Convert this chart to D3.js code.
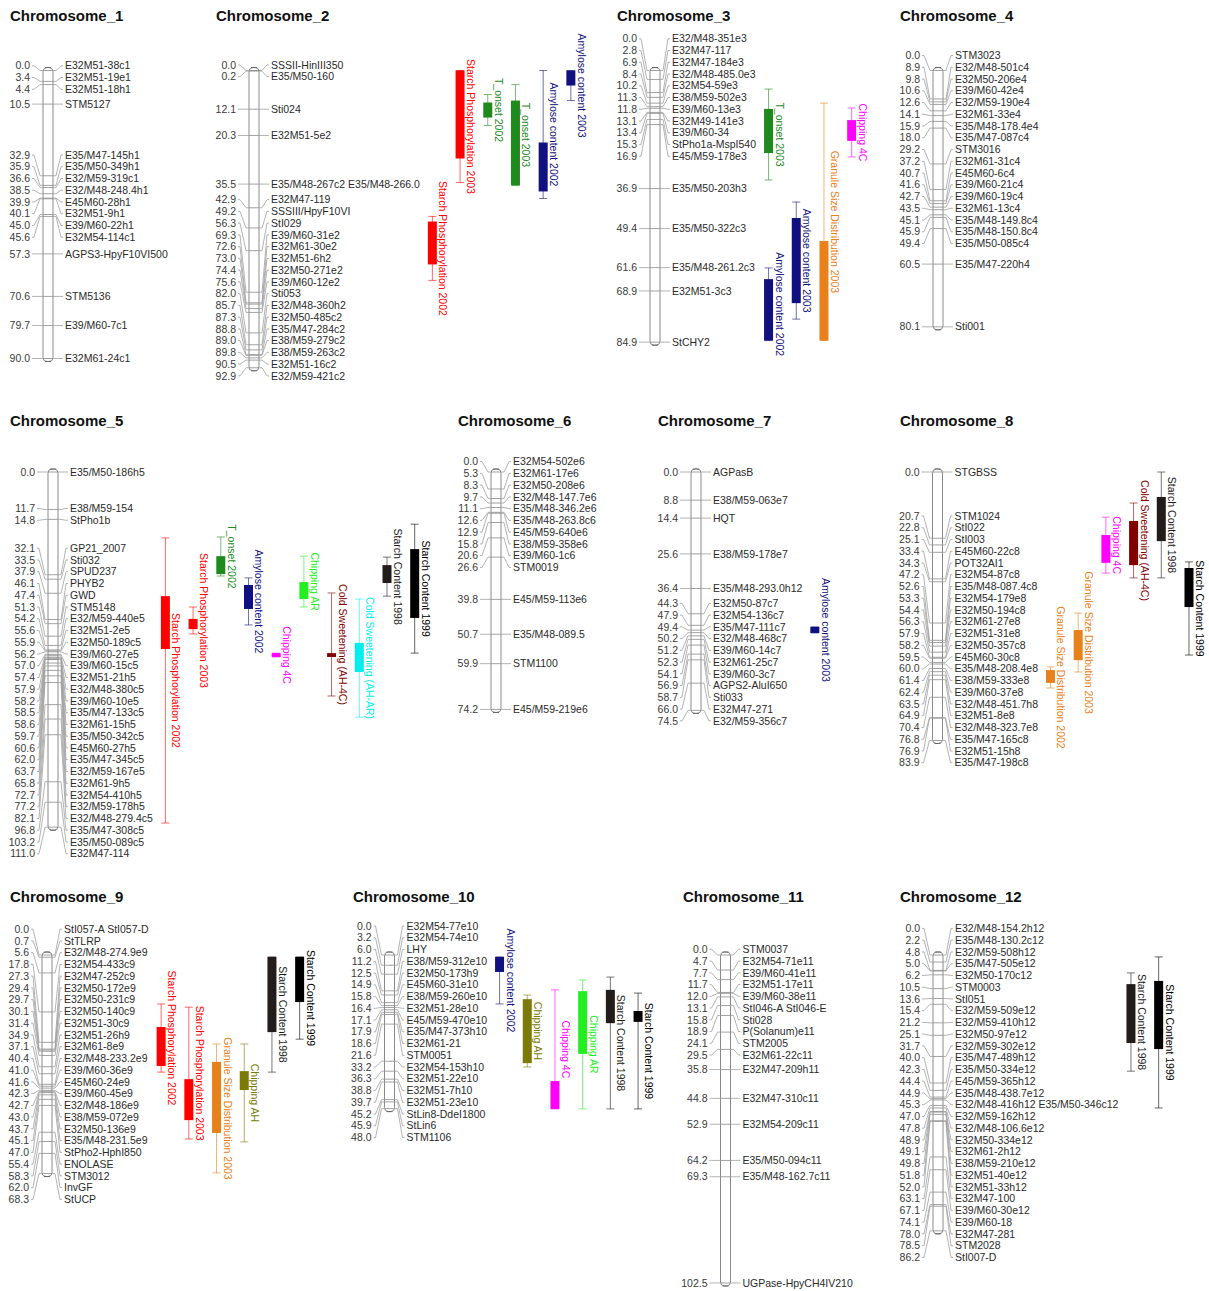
<!DOCTYPE html>
<html><head><meta charset="utf-8">
<script src="https://cdn.jsdelivr.net/npm/d3@7"></script>
<style>body{margin:0;background:#fff}text{font-family:"Liberation Sans",Arial,sans-serif}</style>
</head><body>
<svg id="chart" width="1209" height="1291"></svg>
<script>
// ---------------- DATA ----------------
const chromosomes = ["Chromosome_1","Chromosome_2","Chromosome_3","Chromosome_4","Chromosome_5","Chromosome_6",
  "Chromosome_7","Chromosome_8","Chromosome_9","Chromosome_10","Chromosome_11","Chromosome_12"];

const chr1 = [[0.0,"E32M51-38c1"],[3.4,"E32M51-19e1"],[4.4,"E32M51-18h1"],[10.5,"STM5127"],[32.9,"E35/M47-145h1"],
  [35.9,"E35/M50-349h1"],[36.6,"E32/M59-319c1"],[38.5,"E32/M48-248.4h1"],[39.9,"E45M60-28h1"],[40.1,"E32M51-9h1"],
  [45.0,"E39/M60-22h1"],[45.6,"E32M54-114c1"],[57.3,"AGPS3-HpyF10VI500"],[70.6,"STM5136"],[79.7,"E39/M60-7c1"],[90.0,"E32M61-24c1"]];
const chr2 = [[0.0,"SSSII-HinIII350"],[0.2,"E35/M50-160"],[12.1,"Sti024"],[20.3,"E32M51-5e2"],[35.5,"E35/M48-267c2 E35/M48-266.0"],
  [42.9,"E32M47-119"],[49.2,"SSSIII/HpyF10VI"],[56.3,"StI029"],[69.3,"E39/M60-31e2"],[72.6,"E32M61-30e2"],[73.0,"E32M51-6h2"],
  [74.4,"E32M50-271e2"],[75.6,"E39/M60-12e2"],[82.0,"Sti053"],[85.7,"E32/M48-360h2"],[87.3,"E32M50-485c2"],[88.8,"E35/M47-284c2"],
  [89.0,"E38/M59-279c2"],[89.8,"E38/M59-263c2"],[90.5,"E32M51-16c2"],[92.9,"E32/M59-421c2"]];
const chr3 = [[0.0,"E32/M48-351e3"],[2.8,"E32M47-117"],[6.9,"E32M47-184e3"],[8.4,"E32/M48-485.0e3"],[10.2,"E32M54-59e3"],
  [11.3,"E38/M59-502e3"],[11.8,"E39/M60-13e3"],[13.1,"E32M49-141e3"],[13.4,"E39/M60-34"],[15.3,"StPho1a-MspI540"],
  [16.9,"E45/M59-178e3"],[36.9,"E35/M50-203h3"],[49.4,"E35/M50-322c3"],[61.6,"E35/M48-261.2c3"],[68.9,"E32M51-3c3"],[84.9,"StCHY2"]];
const chr4 = [[0.0,"STM3023"],[8.9,"E32/M48-501c4"],[9.8,"E32M50-206e4"],[10.6,"E39/M60-42e4"],[12.6,"E32/M59-190e4"],
  [14.1,"E32M61-33e4"],[15.9,"E35/M48-178.4e4"],[18.0,"E35/M47-087c4"],[29.2,"STM3016"],[37.2,"E32M61-31c4"],[40.7,"E45M60-6c4"],
  [41.6,"E39/M60-21c4"],[42.7,"E39/M60-19c4"],[43.5,"E32M61-13c4"],[45.1,"E35/M48-149.8c4"],[45.9,"E35/M48-150.8c4"],
  [49.4,"E35/M50-085c4"],[60.5,"E35/M47-220h4"],[80.1,"Sti001"]];
const chr5 = [[0.0,"E35/M50-186h5"],[11.7,"E38/M59-154"],[14.8,"StPho1b"],[32.1,"GP21_2007"],[33.5,"Sti032"],[37.9,"SPUD237"],
  [46.1,"PHYB2"],[47.4,"GWD"],[51.3,"STM5148"],[54.2,"E32/M59-440e5"],[55.6,"E32M51-2e5"],[55.9,"E32M50-189c5"],
  [56.2,"E39/M60-27e5"],[57.0,"E39/M60-15c5"],[57.4,"E32M51-21h5"],[57.9,"E32/M48-380c5"],[58.2,"E39/M60-10e5"],
  [58.5,"E35/M47-133c5"],[58.6,"E32M61-15h5"],[59.7,"E35/M50-342c5"],[60.6,"E45M60-27h5"],[62.0,"E35/M47-345c5"],
  [63.7,"E32/M59-167e5"],[65.8,"E32M61-9h5"],[72.7,"E32M54-410h5"],[77.2,"E32/M59-178h5"],[82.1,"E32/M48-279.4c5"],
  [96.8,"E35/M47-308c5"],[103.2,"E35/M50-089c5"],[111.0,"E32M47-114"]];
const chr6 = [[0.0,"E32M54-502e6"],[5.3,"E32M61-17e6"],[8.3,"E32M50-208e6"],[9.7,"E32/M48-147.7e6"],[11.1,"E35/M48-346.2e6"],
  [12.6,"E35/M48-263.8c6"],[12.9,"E45/M59-640e6"],[15.8,"E38/M59-358e6"],[20.6,"E39/M60-1c6"],[26.6,"STM0019"],
  [39.8,"E45/M59-113e6"],[50.7,"E35/M48-089.5"],[59.9,"STM1100"],[74.2,"E45/M59-219e6"]];
const chr7 = [[0.0,"AGPasB"],[8.8,"E38/M59-063e7"],[14.4,"HQT"],[25.6,"E38/M59-178e7"],[36.4,"E35/M48-293.0h12"],
  [44.3,"E32M50-87c7"],[47.9,"E32M54-136c7"],[49.4,"E35/M47-111c7"],[50.2,"E32/M48-468c7"],[51.2,"E39/M60-14c7"],
  [52.3,"E32M61-25c7"],[54.1,"E39/M60-3c7"],[56.9,"AGPS2-AluI650"],[58.7,"Sti033"],[66.0,"E32M47-271"],[74.5,"E32/M59-356c7"]];
const chr8 = [[0.0,"STGBSS"],[20.7,"STM1024"],[22.8,"StI022"],[25.1,"StI003"],[33.4,"E45M60-22c8"],[34.3,"POT32AI1"],
  [47.2,"E32M54-87c8"],[52.6,"E35/M48-087.4c8"],[53.3,"E32M54-179e8"],[54.4,"E32M50-194c8"],[56.3,"E32M61-27e8"],
  [57.9,"E32M51-31e8"],[58.2,"E32M50-357c8"],[59.5,"E45M60-30c8"],[60.0,"E35/M48-208.4e8"],[61.4,"E38/M59-333e8"],
  [62.4,"E39/M60-37e8"],[63.5,"E32/M48-451.7h8"],[64.9,"E32M51-8e8"],[70.4,"E32/M48-323.7e8"],[76.8,"E35/M47-165c8"],
  [76.9,"E32M51-15h8"],[83.9,"E35/M47-198c8"]];
const chr9 = [[0.0,"StI057-A StI057-D"],[0.7,"StTLRP"],[5.6,"E32/M48-274.9e9"],[17.8,"E32M54-433c9"],[27.3,"E32M47-252c9"],
  [29.4,"E32M50-172e9"],[29.7,"E32M50-231c9"],[30.1,"E32M50-140c9"],[31.4,"E32M51-30c9"],[34.9,"E32M51-26h9"],
  [37.1,"E32M61-8e9"],[40.4,"E32/M48-233.2e9"],[41.0,"E39/M60-36e9"],[41.6,"E45M60-24e9"],[42.3,"E39/M60-45e9"],
  [42.7,"E32/M48-186e9"],[43.0,"E38/M59-072e9"],[43.7,"E32M50-136e9"],[45.1,"E35/M48-231.5e9"],[47.0,"StPho2-HphI850"],
  [55.4,"ENOLASE"],[58.3,"STM3012"],[62.0,"InvGF"],[68.3,"StUCP"]];
const chr10 = [[0.0,"E32M54-77e10"],[3.2,"E32M54-74e10"],[6.0,"LHY"],[11.2,"E38/M59-312e10"],[12.5,"E32M50-173h9"],
  [14.9,"E45M60-31e10"],[15.8,"E38/M59-260e10"],[16.4,"E32M51-28e10"],[17.1,"E45/M59-470e10"],[17.9,"E35/M47-373h10"],
  [18.6,"E32M61-21"],[21.6,"STM0051"],[33.2,"E32M54-153h10"],[36.3,"E32M51-22e10"],[38.8,"E32M51-7h10"],
  [39.7,"E32M51-23e10"],[45.2,"StLin8-DdeI1800"],[45.9,"StLin6"],[48.0,"STM1106"]];
const chr11 = [[0.0,"STM0037"],[4.7,"E32M54-71e11"],[7.7,"E39/M60-41e11"],[11.7,"E32M51-17e11"],[12.0,"E39/M60-38e11"],
  [13.1,"StI046-A StI046-E"],[15.8,"Sti028"],[18.9,"P(Solanum)e11"],[24.1,"STM2005"],[29.5,"E32M61-22c11"],
  [35.8,"E32M47-209h11"],[44.8,"E32M47-310c11"],[52.9,"E32M54-209c11"],[64.2,"E35/M50-094c11"],[69.3,"E35/M48-162.7c11"],
  [102.5,"UGPase-HpyCH4IV210"]];
const chr12 = [[0.0,"E32/M48-154.2h12"],[2.2,"E35/M48-130.2c12"],[4.8,"E32/M59-508h12"],[5.0,"E35/M47-505e12"],
  [6.2,"E32M50-170c12"],[10.5,"STM0003"],[13.6,"StI051"],[15.4,"E32/M59-509e12"],[21.2,"E32/M59-410h12"],[25.1,"E32M50-97e12"],
  [31.7,"E32/M59-302e12"],[40.0,"E35/M47-489h12"],[42.3,"E35/M50-334e12"],[44.4,"E45/M59-365h12"],[44.9,"E35/M48-438.7e12"],
  [45.3,"E32/M48-416h12 E35/M50-346c12"],[47.0,"E32/M59-162h12"],[47.8,"E32/M48-106.6e12"],[48.9,"E32M50-334e12"],
  [49.1,"E32M61-2h12"],[49.8,"E38/M59-210e12"],[51.8,"E32M51-40e12"],[52.0,"E32M51-33h12"],[63.1,"E32M47-100"],
  [67.1,"E39/M60-30e12"],[74.1,"E39/M60-18"],[78.0,"E32M47-281"],[78.5,"STM2028"],[86.2,"StI007-D"]];
const markerSets = [chr1,chr2,chr3,chr4,chr5,chr6,chr7,chr8,chr9,chr10,chr11,chr12];

// QTLs: [label, trait key, lane, CI start cM, CI end cM, peak-box start cM, peak-box end cM]
const qtl2 = [["Starch Phosphorylation 2002","SP",0,45.6,65.6,47.2,60.6],["Starch Phosphorylation 2003","SP",1,0,35.0,0,27.5],
  ["T_onset 2002","TO",2,7.5,17.2,10.0,14.7],["T_onset 2003","TO",3,4.4,35.9,9.4,35.9],
  ["Amylose content 2002","AC",4,0,40.0,22.5,37.8],["Amylose content 2003","AC",5,0,9.4,0,4.7]];
const qtl3 = [["T_onset 2003","TO",0,5.8,34.2,12.0,25.8],["Amylose content 2002","AC",0,61.7,84.4,65.2,84.4],
  ["Amylose content 2003","AC",1,41.1,77.7,46.1,72.7],["Granule Size Distribution 2003","GS",2,10.2,84.4,53.3,84.4],
  ["Chipping 4C","C4",3,11.7,27.0,15.5,22.0]];
const qtl5 = [["Starch Phosphorylation 2002","SP",0,20.6,109.7,38.8,55.3],["Starch Phosphorylation 2003","SP",1,42.2,50.6,45.9,49.1],
  ["T_onset 2002","TO",2,20.3,32.5,26.3,31.9],["Amylose content 2002","AC",3,33.1,47.8,35.3,42.8],
  ["Chipping 4C","C4",4,56.6,57.8,56.6,57.8],["Chipping AR","CAR",5,26.3,42.2,34.4,39.7],
  ["Cold Sweetening (AH-4C)","CS4",6,37.8,70.0,56.6,57.8],["Cold Sweetening (AH-AR)","CSAR",7,39.7,76.6,53.4,62.5],
  ["Starch Content 1998","SC98",8,26.6,38.8,29.1,34.7],["Starch Content 1999","SC99",9,16.3,56.6,24.1,45.6]];
const qtl7 = [["Amylose content 2003","AC",0,48.4,50.3,48.4,50.3]];
const qtl8 = [["Granule Size Distribution 2002","GS",0,60.9,67.5,61.9,65.9],["Granule Size Distribution 2003","GS",1,44.1,62.5,49.4,58.8],
  ["Chipping 4C","C4",2,14.1,31.6,19.7,28.4],["Cold Sweetening (AH-4C)","CS4",3,9.7,33.1,15.3,29.1],
  ["Starch Content 1998","SC98",4,0,33.1,7.8,21.6],["Starch Content 1999","SC99",5,28.1,57.2,30.0,42.2]];
const qtl9 = [["Starch Phosphorylation 2002","SP",0,15.3,36.6,22.5,34.7],["Starch Phosphorylation 2003","SP",1,16.3,57.5,38.8,51.6],
  ["Granule Size Distribution 2003","GS",2,27.8,68.1,33.4,55.6],["Chipping AH","CAH",3,27.8,58.4,36.3,42.2],
  ["Starch Content 1998","SC98",4,0.6,36.6,0.6,24.1],["Starch Content 1999","SC99",5,0.6,26.3,0.6,14.7]];
const qtl10 = [["Amylose content 2002","AC",0,0.6,15.3,0.6,5.3],["Chipping AH","CAH",1,12.5,35.0,13.8,33.8],
  ["Chipping 4C","C4",2,10.9,48.1,39.4,48.1],["Chipping AR","CAR",3,7.8,48.1,11.3,30.9],
  ["Starch Content 1998","SC98",4,6.9,48.1,10.9,21.3],["Starch Content 1999","SC99",5,11.9,48.1,17.5,20.9]];
const qtl12 = [["Starch Content 1998","SC98",0,5.6,36.3,9.1,27.5],["Starch Content 1999","SC99",1,0.6,47.8,8.1,29.4]];
const qtlSets = [[],qtl2,qtl3,[],qtl5,[],qtl7,qtl8,qtl9,qtl10,[],qtl12];

// ---------------- STYLE / LAYOUT ----------------
const traitColor = {SP:"#ff0000",TO:"#1e8a1e",AC:"#10107e",GS:"#e8801c",C4:"#ff00ff",CAR:"#22ee22",CAH:"#7a7a05",
  CS4:"#800000",CSAR:"#00eeee",SC98:"#221d1a",SC99:"#000000"};
const rowTop = [70.5, 472, 955];
const rowTitle = [21, 426, 902];
const layout = [
  {row:0,titleX:10,cx:48},{row:0,titleX:216,cx:254},{row:0,titleX:617,cx:655},{row:0,titleX:900,cx:938},
  {row:1,titleX:10,cx:53},{row:1,titleX:458,cx:496},{row:1,titleX:658,cx:696},{row:1,titleX:900,cx:937.5},
  {row:2,titleX:10,cx:47},{row:2,titleX:353,cx:389.5},{row:2,titleX:683,cx:725.5},{row:2,titleX:900,cx:938}
];
const PX_PER_CM = 3.2, GAP = 11.75, BAR_W = 10, LANE_W = 27.7, BOX_W = 9, QTL_GAP = 8;

// label de-overlap: groups centred on the midpoint of their desired range, merged from the bottom up
function spread(desired, gap) {
  let groups = desired.map(d => ({lo:d, hi:d, n:1}));
  const top = g => (g.lo + g.hi) / 2 - (g.n - 1) * gap / 2;
  let merged = true;
  while (merged) {
    merged = false;
    for (let i = groups.length - 1; i >= 1; i--) {
      const a = groups[i-1], b = groups[i];
      if (top(b) < top(a) + a.n * gap - 0.01) {
        groups.splice(i-1, 2, {lo:a.lo, hi:b.hi, n:a.n + b.n});
        merged = true; break;
      }
    }
  }
  const out = [];
  groups.forEach(g => { const t = top(g); for (let k = 0; k < g.n; k++) out.push(t + k * gap); });
  return out;
}

const svg = d3.select("#chart");
svg.append("rect").attr("width",1209).attr("height",1291).attr("fill","#fff");
const line = d3.line();

chromosomes.forEach((name, i) => {
  const L = layout[i], markers = markerSets[i];
  const maxCM = d3.max(markers, d => d[0]);
  const y0 = rowTop[L.row];
  const y = d3.scaleLinear().domain([0, maxCM]).range([y0, y0 + maxCM * PX_PER_CM]);
  const g = svg.append("g");

  g.append("text").attr("x", L.titleX).attr("y", rowTitle[L.row])
    .attr("font-size", 15).attr("font-weight", "bold").attr("fill", "#111").text(name);

  const bl = L.cx - BAR_W / 2, br = L.cx + BAR_W / 2;
  g.append("rect").attr("x", bl).attr("y", y(0) - 3).attr("width", BAR_W)
    .attr("height", y(maxCM) - y(0) + 6).attr("rx", 4).attr("ry", 4)
    .attr("fill", "#fff").attr("stroke", "#8a8a8a").attr("stroke-width", 1);
  // small end caps
  [y(0) - 3, y(maxCM) + 3].forEach(yy => g.append("line").attr("x1", L.cx - 3).attr("x2", L.cx + 3)
    .attr("y1", yy).attr("y2", yy).attr("stroke", "#666").attr("stroke-width", 1));

  const desired = markers.map(d => y(d[0]));
  const pos = spread(desired, GAP);
  const numR = L.cx - 18, nameL = L.cx + 17;
  let maxRight = 0;
  markers.forEach((d, j) => {
    const yt = desired[j], yl = pos[j];
    g.append("line").attr("x1", bl).attr("x2", br).attr("y1", yt).attr("y2", yt)
      .attr("stroke", "#8a8a8a").attr("stroke-width", 0.8);
    g.append("path").attr("d", line([[numR + 2, yl], [numR + 4, yl], [bl - 3, yt], [bl, yt]]))
      .attr("fill", "none").attr("stroke", "#a0a0a0").attr("stroke-width", 0.8);
    g.append("path").attr("d", line([[br, yt], [br + 3, yt], [nameL - 4, yl], [nameL - 2, yl]]))
      .attr("fill", "none").attr("stroke", "#a0a0a0").attr("stroke-width", 0.8);
    g.append("text").attr("x", numR).attr("y", yl).attr("dy", "0.35em").attr("text-anchor", "end")
      .attr("font-size", 10.5).attr("fill", "#3a3a3a").text(d[0].toFixed(1));
    const t = g.append("text").attr("x", nameL).attr("y", yl).attr("dy", "0.35em")
      .attr("font-size", 10.5).attr("fill", "#2a2a2a").text(d[1]);
    maxRight = Math.max(maxRight, nameL + t.node().getComputedTextLength());
  });

  const qs = qtlSets[i];
  const lane0 = maxRight + QTL_GAP + BOX_W / 2;
  qs.forEach(q => {
    const [label, key, lane, c0, c1, b0, b1] = q;
    const col = traitColor[key];
    const x = lane0 + lane * LANE_W;
    const yc0 = y(c0), yc1 = y(c1);
    g.append("line").attr("x1", x).attr("x2", x).attr("y1", yc0).attr("y2", yc1)
      .attr("stroke", col).attr("stroke-opacity", 0.6).attr("stroke-width", 1);
    [yc0, yc1].forEach(yy => g.append("line").attr("x1", x - 4).attr("x2", x + 4).attr("y1", yy).attr("y2", yy)
      .attr("stroke", col).attr("stroke-opacity", 0.6).attr("stroke-width", 1));
    const yb0 = y(b0), yb1 = y(b1);
    const h = Math.max(3, yb1 - yb0);
    g.append("rect").attr("x", x - BOX_W / 2).attr("y", (yb0 + yb1) / 2 - h / 2)
      .attr("width", BOX_W).attr("height", h).attr("fill", col);
    g.append("text").attr("transform", `translate(${x + BOX_W / 2 + 2.5},${(yc0 + yc1) / 2}) rotate(90)`)
      .attr("text-anchor", "middle").attr("font-size", 10.5).attr("fill", col).text(label);
  });
});
</script>
</body></html>
